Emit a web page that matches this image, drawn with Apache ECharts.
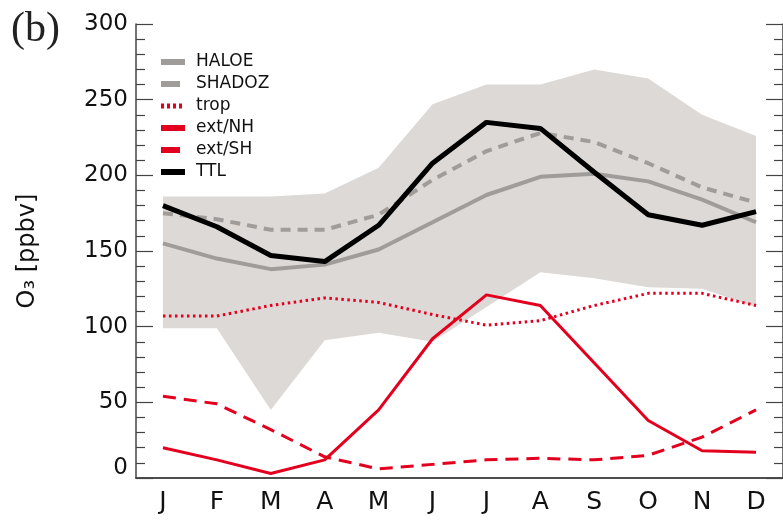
<!DOCTYPE html>
<html>
<head>
<meta charset="utf-8">
<script src="https://cdn.jsdelivr.net/npm/echarts@6/dist/echarts.min.js"></script>
<style>
  html, body { margin: 0; padding: 0; background: #fff; }
  #chart { width: 783px; height: 520px; }
</style>
</head>
<body>
<div id="chart"></div>
<script>
// 月份
var months = ['J', 'F', 'M', 'A', 'M', 'J', 'J', 'A', 'S', 'O', 'N', 'D'];

// 灰色区域 (上下边界)
var bandUpper = [186, 186, 186, 188, 205, 247, 260, 260, 270, 264, 240, 226];
var bandLower = [99, 99, 45, 91, 96, 90, 113, 136, 132, 126, 125, 113];

// 各条曲线
var haloe  = [155, 145, 138, 141, 151, 169, 187, 199, 201, 196, 184, 169];
var shadoz = [175, 171, 164, 164, 174, 197, 216, 228, 222, 208, 192, 182];
var trop   = [107, 107, 114, 119, 116, 108, 101, 104, 114, 122, 122, 114];
var extNH  = [20, 12, 3, 12, 45, 92, 121, 114, 76, 38, 18, 17];
var extSH  = [54, 49, 32, 14, 6, 9, 12, 13, 12, 15, 27, 45];
var ttl    = [180, 166, 147, 143, 167, 208, 235, 231, 202, 174, 167, 176];

var yTicks = [0, 50, 100, 150, 200, 250, 300];

var axisColor = '#444';
var gray = '#a09c99';
var red = '#e3001f';
var font = 'DejaVu Sans';

var bandDiff = bandUpper.map(function (v, i) { return v - bandLower[i]; });

var myChart = echarts.init(document.getElementById('chart'));

function xAxis(pos, showLabel) {
    return {
        type: 'category',
        position: pos,
        data: months,
        boundaryGap: true,
        axisLine: { lineStyle: { color: axisColor, width: 1.5 } },
        axisTick: { inside: true, alignWithLabel: true, length: 16, lineStyle: { color: axisColor, width: 1.2 } },
        axisLabel: { show: showLabel, margin: 12, fontSize: 25, color: '#111', fontFamily: font },
        splitLine: { show: false }
    };
}

function yAxis(pos, showLabel) {
    return {
        type: 'value',
        position: pos,
        min: yTicks[0],
        max: yTicks[yTicks.length - 1],
        interval: 50,
        axisLine: { show: true, lineStyle: { color: axisColor, width: 1.5 } },
        axisTick: { show: true, inside: true, length: 17, lineStyle: { color: axisColor, width: 1.2 } },
        minorTick: { show: true, splitNumber: 5, length: 9, lineStyle: { color: axisColor, width: 1.2 } },
        axisLabel: {
            show: showLabel, margin: 8, fontSize: 23, color: '#111', fontFamily: font,
            formatter: function (v) { return v === 0 ? '{z|0}' : String(v); },
            rich: { z: { fontSize: 23, fontFamily: font, color: '#111', padding: [0, 0, 20, 0] } }
        },
        splitLine: { show: false },
        name: showLabel ? 'O₃ [ppbv]' : '',
        nameLocation: 'middle',
        nameRotate: 90,
        nameGap: 96,
        nameTextStyle: { fontSize: 24, color: '#111', fontFamily: font }
    };
}

function line(name, data, color, width, type) {
    return {
        name: name,
        type: 'line',
        data: data,
        symbol: 'none',
        smooth: false,
        lineStyle: { color: color, width: width, type: type || 'solid', cap: 'butt' },
        itemStyle: { color: color }
    };
}

var option = {
    animation: false,
    title: {
        text: '(b)',
        left: 6,
        top: 4,
        textStyle: { fontFamily: 'Liberation Serif', fontSize: 42, fontWeight: 'normal', color: '#222' }
    },
    legend: {
        orient: 'vertical',
        left: 153,
        top: 47,
        itemWidth: 24,
        itemHeight: 14,
        itemGap: 2,
        itemStyle: { opacity: 0 },
        lineStyle: { width: 6 },
        data: [
            { name: 'HALOE' },
            { name: 'SHADOZ', lineStyle: { type: [19, 10], width: 6 } },
            { name: 'trop', lineStyle: { type: [3, 3], width: 5 } },
            { name: 'ext/NH' },
            { name: 'ext/SH', lineStyle: { type: [19, 10], width: 6 } },
            { name: 'TTL' }
        ],
        textStyle: { fontSize: 17, color: '#111', fontFamily: font, lineHeight: 20, padding: [0, 0, 0, 6] }
    },
    grid: { left: 136, top: 24, width: 654, height: 454 },
    xAxis: [xAxis('bottom', true), xAxis('top', false)],
    yAxis: [yAxis('left', true), yAxis('right', false)],
    series: [
        {
            name: 'bandLow', type: 'line', stack: 'band', data: bandLower,
            symbol: 'none', silent: true, lineStyle: { opacity: 0 }
        },
        {
            name: 'bandHigh', type: 'line', stack: 'band', data: bandDiff,
            symbol: 'none', silent: true, lineStyle: { opacity: 0 },
            areaStyle: { color: '#dcd9d6', opacity: 1 }
        },
        line('HALOE', haloe, gray, 4),
        line('SHADOZ', shadoz, gray, 4, [10, 7]),
        line('trop', trop, red, 3, [2.5, 3.5]),
        line('ext/NH', extNH, red, 3),
        line('ext/SH', extSH, red, 3, [13, 8]),
        line('TTL', ttl, '#000', 5)
    ]
};

myChart.setOption(option);
</script>
</body>
</html>
